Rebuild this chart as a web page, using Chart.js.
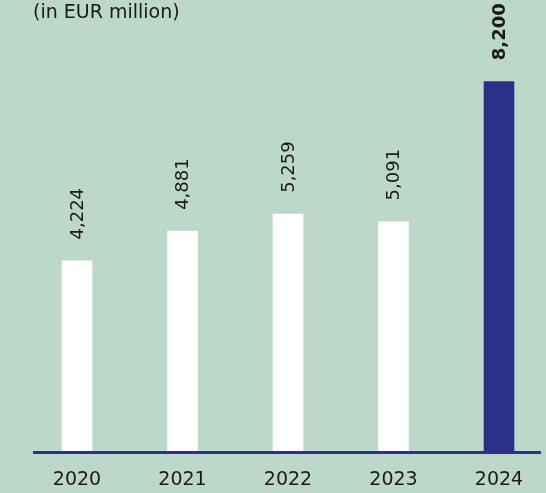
<!DOCTYPE html>
<html lang="en">
<head>
    <meta charset="UTF-8">
    <title>Revenue (in EUR million)</title>
    <script src="https://cdn.jsdelivr.net/npm/chart.js"></script>
    <style>
        body { margin: 0; background: #bcd8c8; }
        .wrap { position: relative; width: 546px; height: 493px; background: #bcd8c8; }
        .unit { position: absolute; left: 33px; top: 0px; font: 19px "DejaVu Sans", sans-serif; line-height: 22px; color: #1a1a1a; }
    </style>
</head>
<body>
    <div class="wrap">
        <canvas id="revChart"></canvas>
        <div class="unit">(in EUR million)</div>
    </div>
    <script>
        // Data
        const years = ['2020', '2021', '2022', '2023', '2024'];
        const values = [4224, 4881, 5259, 5091, 8200];
        const labels = ['4,224', '4,881', '5,259', '5,091', '8,200'];

        const blue = '#2b3189';
        const barColors = ['#ffffff', '#ffffff', '#ffffff', '#ffffff', blue];

        // value labels, rotated, above each bar
        const valueLabels = {
            id: 'valueLabels',
            afterDatasetsDraw(chart) {
                const ctx = chart.ctx;
                const meta = chart.getDatasetMeta(0);
                meta.data.forEach((bar, i) => {
                    ctx.save();
                    ctx.translate(bar.x + 1, bar.y - 21);
                    ctx.rotate(-Math.PI / 2);
                    ctx.font = (i === values.length - 1 ? 'bold ' : '') + '18px "DejaVu Sans", sans-serif';
                    ctx.fillStyle = '#1a1a1a';
                    ctx.textAlign = 'left';
                    ctx.textBaseline = 'middle';
                    ctx.fillText(labels[i], 0, 0);
                    ctx.restore();
                });
            }
        };

        // blue baseline under the bars
        const baseLine = {
            id: 'baseLine',
            afterDatasetsDraw(chart) {
                const ctx = chart.ctx;
                const y = chart.chartArea.bottom + 1.5;
                ctx.save();
                ctx.strokeStyle = blue;
                ctx.lineWidth = 3;
                ctx.beginPath();
                ctx.moveTo(33, y);
                ctx.lineTo(541, y);
                ctx.stroke();
                ctx.restore();
            }
        };

        new Chart(document.getElementById('revChart'), {
            type: 'bar',
            data: {
                labels: years,
                datasets: [{
                    data: values,
                    backgroundColor: barColors,
                    borderWidth: 0,
                    clip: false,
                    categoryPercentage: 1,
                    barPercentage: 0.29
                }]
            },
            options: {
                responsive: true,
                maintainAspectRatio: false,
                animation: false,
                layout: { padding: { left: 77, right: 47, top: 0, bottom: 0 } },
                plugins: {
                    legend: { display: false },
                    tooltip: { enabled: false }
                },
                scales: {
                    x: {
                        offset: false,
                        grid: { display: false, drawTicks: false },
                        border: { display: false },
                        afterFit(scale) { scale.height = 42; },
                        ticks: {
                            color: '#1a1a1a',
                            padding: 18,
                            maxRotation: 0,
                            autoSkip: false,
                            font: { family: '"DejaVu Sans", sans-serif', size: 19 }
                        }
                    },
                    y: {
                        display: false,
                        min: 0,
                        max: 10000
                    }
                }
            },
            plugins: [valueLabels, baseLine]
        });
    </script>
</body>
</html>
